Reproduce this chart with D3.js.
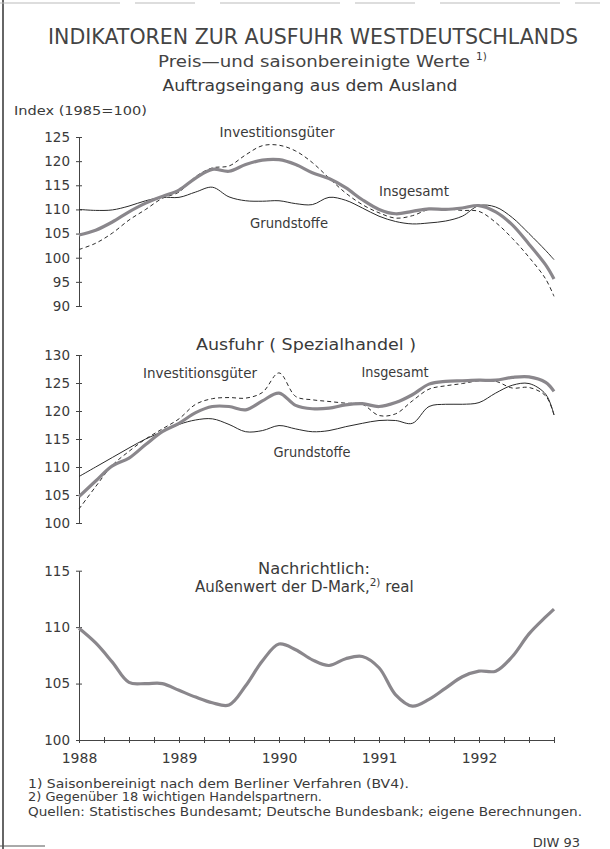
<!DOCTYPE html>
<html>
<head>
<meta charset="utf-8">
<script src="https://cdn.jsdelivr.net/npm/d3@7"></script>
<style>
  body { margin: 0; background: #fff; }
  svg text { font-family: "DejaVu Sans", sans-serif; fill: #3a3a3a; }
</style>
</head>
<body>
<div id="chart"></div>
<script>
// months since Jan 1988 (bi-monthly readings, last one Oct 1992)
var months = [0,2,4,6,8,10,12,14,16,18,20,22,24,26,28,30,32,34,36,38,40,42,44,46,48,50,52,54,56,57];
var yearLabels = [1988, 1989, 1990, 1991, 1992];

// Auftragseingang aus dem Ausland
var aeInsgesamt = [104.7,105.7,107.4,109.5,111.3,112.7,114.0,116.5,118.3,117.9,119.3,120.2,120.3,119.3,117.6,116.4,114.5,112.0,110.0,109.1,109.6,110.1,110.0,110.3,110.8,109.5,106.8,102.8,98.5,95.6];
var aeInvest    = [101.7,103.0,105.1,107.8,110.0,112.3,113.6,116.8,118.6,119.0,121.3,123.2,123.3,122.1,119.7,116.5,113.4,111.0,109.3,108.2,108.7,110.0,110.1,109.8,109.6,107.3,104.0,100.1,95.6,92.0];
var aeGrund     = [110.0,109.8,109.9,110.7,111.8,112.5,112.5,113.6,114.6,112.6,111.8,111.7,111.8,111.2,111.0,112.5,111.9,110.3,108.6,107.5,107.0,107.2,107.6,108.6,110.8,110.5,108.3,105.0,101.5,99.6];

// Ausfuhr (Spezialhandel)
var ausInsgesamt = [104.7,107.5,110.2,111.6,114.0,116.3,117.8,119.7,120.8,120.8,120.2,121.8,123.2,121.0,120.4,120.5,121.1,121.3,120.8,121.5,122.9,124.8,125.3,125.4,125.5,125.5,126.0,126.1,125.1,123.5];
var ausInvest    = [102.5,106.5,110.3,112.8,115.0,116.8,118.6,121.2,122.2,122.4,122.3,123.3,126.8,122.6,122.0,121.7,121.4,121.2,119.2,119.5,121.8,123.9,124.5,124.9,125.4,125.3,124.1,124.2,122.7,119.3];
var ausGrund     = [108.3,110.0,111.7,113.4,115.0,116.3,117.6,118.4,118.6,117.6,116.3,116.5,117.4,116.8,116.3,116.5,117.2,117.8,118.3,118.3,117.8,120.8,121.2,121.2,121.5,123.2,124.6,124.9,123.0,119.3];

// Außenwert der D-Mark, real
var dmark = [109.9,108.6,106.9,105.1,105.0,105.0,104.4,103.8,103.3,103.1,104.8,107.0,108.5,108.0,107.1,106.6,107.2,107.4,106.4,104.0,103.0,103.6,104.6,105.6,106.1,106.1,107.4,109.4,110.9,111.6];

var aeTicks = [90,95,100,105,110,115,120,125];
var ausTicks = [100,105,110,115,120,125,130];
var dmTicks = [100,105,110,115];

var width = 610, height = 849;
var svg = d3.select("#chart").append("svg")
    .attr("width", width)
    .attr("height", height);

var x = d3.scaleLinear().domain([0, 57]).range([79, 554]);

// scanned frame edges
svg.append("line").attr("x1", 3).attr("x2", 3).attr("y1", 0).attr("y2", height)
    .attr("stroke", "#333").attr("stroke-width", 1.5);
svg.append("line").attr("x1", 0).attr("x2", 600).attr("y1", 3).attr("y2", 3)
    .attr("stroke", "#bbb").attr("stroke-width", 1).attr("stroke-dasharray", "120,15,60,25");
svg.append("line").attr("x1", 0).attr("x2", 45).attr("y1", 846).attr("y2", 846)
    .attr("stroke", "#555").attr("stroke-width", 1);

function addText(px, py, str, size, anchor, len) {
    var t = svg.append("text")
        .attr("x", px).attr("y", py)
        .attr("font-size", size)
        .attr("text-anchor", anchor || "start")
        .text(str);
    if (len) t.attr("textLength", len).attr("lengthAdjust", "spacingAndGlyphs");
    return t;
}

// titles
addText(313, 44, "INDIKATOREN ZUR AUSFUHR WESTDEUTSCHLANDS", 21, "middle", 530).style("fill", "#444");
addText(158, 67, "Preis—und saisonbereinigte Werte", 16.5, "start", 312).style("fill", "#444");
addText(476, 60, "1)", 10.5, "start");
addText(310, 91, "Auftragseingang aus dem Ausland", 15, "middle", 295);
addText(14, 115, "Index (1985=100)", 13, "start", 133);

function drawPanel(y, ticks, showX) {
    var yAxis = d3.axisLeft(y).tickValues(ticks).tickSizeInner(3).tickSizeOuter(0).tickPadding(6);
    var g = svg.append("g").attr("transform", "translate(" + x(0) + ",0)").call(yAxis);
    g.select(".domain").attr("stroke", "#444");
    g.selectAll(".tick line").attr("x1", 3).attr("stroke", "#444");
    g.selectAll(".tick text").attr("font-size", 13.5).attr("font-family", "DejaVu Sans").attr("fill", "#3a3a3a");
    if (showX) {
        var xAxis = d3.axisBottom(x)
            .tickValues(d3.range(0, 58, 3))
            .tickSizeInner(3).tickSizeOuter(0).tickPadding(10)
            .tickFormat(function (m) { return m % 12 == 0 ? yearLabels[m / 12] : ""; });
        var gx = svg.append("g").attr("transform", "translate(0," + y.range()[0] + ")").call(xAxis);
        gx.select(".domain").attr("stroke", "#444");
        gx.selectAll(".tick line").attr("y1", -3).attr("stroke", "#444");
        gx.selectAll(".tick text").attr("font-size", 14).attr("font-family", "DejaVu Sans").attr("fill", "#3a3a3a");
    }
}

function drawSeries(y, values, kind) {
    var line = d3.line()
        .x(function (d, i) { return x(months[i]); })
        .y(function (d) { return y(d); })
        .curve(d3.curveCatmullRom.alpha(0.5));
    var p = svg.append("path").datum(values).attr("d", line).attr("fill", "none");
    if (kind == "thick") {
        p.attr("stroke", "#8a878c").attr("stroke-width", 3.2).attr("stroke-linejoin", "round");
    } else if (kind == "dashed") {
        p.attr("stroke", "#2a2a2a").attr("stroke-width", 1).attr("stroke-dasharray", "4,3");
    } else {
        p.attr("stroke", "#2a2a2a").attr("stroke-width", 1);
    }
}

// Panel 1
var y1 = d3.scaleLinear().domain([90, 125]).range([306, 137]);
drawPanel(y1, aeTicks, false);
drawSeries(y1, aeGrund, "thin");
drawSeries(y1, aeInvest, "dashed");
drawSeries(y1, aeInsgesamt, "thick");
addText(277, 137, "Investitionsgüter", 13.5, "middle", 115);
addText(414, 196, "Insgesamt", 13.5, "middle", 70);
addText(289, 228, "Grundstoffe", 13.5, "middle", 78);

// Panel 2
var y2 = d3.scaleLinear().domain([100, 130]).range([523, 355]);
addText(306, 350, "Ausfuhr ( Spezialhandel )", 15, "middle", 220);
drawPanel(y2, ausTicks, false);
drawSeries(y2, ausGrund, "thin");
drawSeries(y2, ausInvest, "dashed");
drawSeries(y2, ausInsgesamt, "thick");
addText(200, 378, "Investitionsgüter", 13.5, "middle", 114);
addText(395, 377, "Insgesamt", 13.5, "middle", 67);
addText(312, 457, "Grundstoffe", 13.5, "middle", 77);

// Panel 3
var y3 = d3.scaleLinear().domain([100, 115]).range([740, 570.7]);
addText(314, 574, "Nachrichtlich:", 15, "middle", 112);
var sub = svg.append("text").attr("x", 195).attr("y", 592).attr("font-size", 15);
sub.append("tspan").text("Außenwert der D-Mark,");
sub.append("tspan").attr("font-size", 10.5).attr("dy", -6).text("2)");
sub.append("tspan").attr("dy", 6).text(" real");
drawPanel(y3, dmTicks, true);
drawSeries(y3, dmark, "thick");

// footnotes
addText(28, 788, "1) Saisonbereinigt nach dem Berliner Verfahren (BV4).", 12, "start", 381);
addText(28, 801, "2) Gegenüber 18 wichtigen Handelspartnern.", 12, "start", 294);
addText(28, 816, "Quellen: Statistisches Bundesamt; Deutsche Bundesbank; eigene Berechnungen.", 12, "start", 554);
addText(580, 847, "DIW 93", 13, "end");
</script>
</body>
</html>
